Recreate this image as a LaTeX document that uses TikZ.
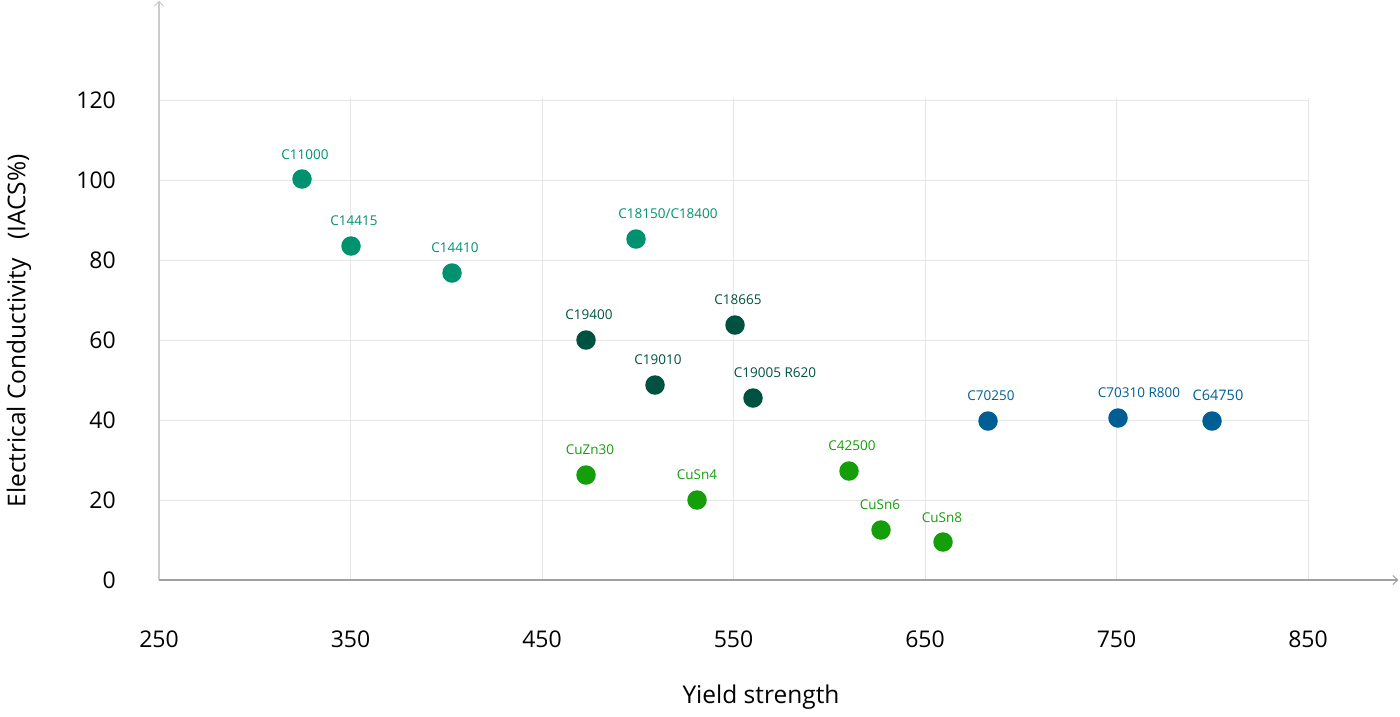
\documentclass[tikz,border=0pt]{standalone}
\usepackage{fontspec}
\setmainfont{Open Sans}
\usetikzlibrary{arrows.meta}
\definecolor{cteal}{RGB}{0,145,110}
\definecolor{cdark}{RGB}{0,82,64}
\definecolor{cgreen}{RGB}{20,158,10}
\definecolor{cblue}{RGB}{0,94,148}
\definecolor{cgrid}{RGB}{230,230,230}
\tikzset{
  gridline/.style={draw=cgrid, line width=1pt},
  axisline/.style={line width=1.5pt, -{Straight Barb[length=5pt,width=9pt,line width=1pt]}},
  dot/.style={circle, fill=#1, minimum size=19.5pt, inner sep=0pt},
  lbl/.style={text=#1, font=\fontsize{13.5}{15}\selectfont, inner sep=0pt},
  tick/.style={font=\fontsize{23}{26}\selectfont, inner sep=0pt, text=black},
  title/.style={font=\fontsize{24.5}{28}\selectfont, inner sep=0pt, text=black}
}
\begin{document}
\begin{tikzpicture}[x=1pt,y=-1pt]
\useasboundingbox (0,0) rectangle (1400,716);
% grid
\foreach \yy in {100,180,260,340,420,500}
  \draw[gridline] (159,\yy) -- (1308,\yy);
\foreach \xx in {350.5,542,733.5,925,1116.5,1308}
  \draw[gridline] (\xx,98) -- (\xx,580);
% axes
\coordinate (o) at (159,580);
\coordinate (ytop) at (159,0.5);
\coordinate (xend) at (1398.5,580);
\draw[axisline, draw={rgb,255:red,204;green,204;blue,204}] (o) -- (ytop);
\draw[axisline, draw={rgb,255:red,160;green,160;blue,160}] (o) -- (xend);
% y tick labels
\foreach \v/\yy in {0/580,20/500,40/420,60/340,80/260,100/180,120/100}
  \node[tick, anchor=east] (yl\v) at (116,\yy) {\v};
% x tick labels
\foreach \v/\xx in {250/159,350/350.5,450/542,550/733.5,650/925,750/1116.5,850/1308}
  \node[tick] (xl\v) at (\xx,639) {\v};
% axis titles
\node[title] (xtitle) at (761,697) {Yield strength};
\node[title, rotate=90] (ytitle) at (19,331) {Electrical Conductivity\hspace{0.75em}(IACS\%)};
% data points
\node[dot=cteal] (p1) at (302,179) {};
\node[lbl=cteal] (l1) at (305,155) {C11000};
\node[dot=cteal] (p2) at (351,246) {};
\node[lbl=cteal] (l2) at (354,221) {C14415};
\node[dot=cteal] (p3) at (452,273) {};
\node[lbl=cteal] (l3) at (455,248) {C14410};
\node[dot=cteal] (p4) at (636,239) {};
\node[lbl=cteal] (l4) at (668,214) {C18150/C18400};
\node[dot=cdark] (p5) at (586,340) {};
\node[lbl=cdark] (l5) at (589,315) {C19400};
\node[dot=cdark] (p6) at (735,325) {};
\node[lbl=cdark] (l6) at (738,300) {C18665};
\node[dot=cdark] (p7) at (655,385) {};
\node[lbl=cdark] (l7) at (658,360) {C19010};
\node[dot=cdark] (p8) at (753,398) {};
\node[lbl=cdark] (l8) at (775,373) {C19005 R620};
\node[dot=cblue] (p9) at (988,421) {};
\node[lbl=cblue] (l9) at (991,396) {C70250};
\node[dot=cblue] (p10) at (1118,418) {};
\node[lbl=cblue] (l10) at (1139,393) {C70310 R800};
\node[dot=cblue] (p11) at (1212,421) {};
\node[lbl=cblue, font=\fontsize{14.5}{16}\selectfont] (l11) at (1218,395) {C64750};
\node[dot=cgreen] (p12) at (586,475) {};
\node[lbl=cgreen] (l12) at (590,450) {CuZn30};
\node[dot=cgreen] (p13) at (697,500) {};
\node[lbl=cgreen] (l13) at (697,475) {CuSn4};
\node[dot=cgreen] (p14) at (849,471) {};
\node[lbl=cgreen] (l14) at (852,446) {C42500};
\node[dot=cgreen] (p15) at (881,530) {};
\node[lbl=cgreen] (l15) at (880,505) {CuSn6};
\node[dot=cgreen] (p16) at (943,542) {};
\node[lbl=cgreen] (l16) at (942,518) {CuSn8};
\end{tikzpicture}
\end{document}
